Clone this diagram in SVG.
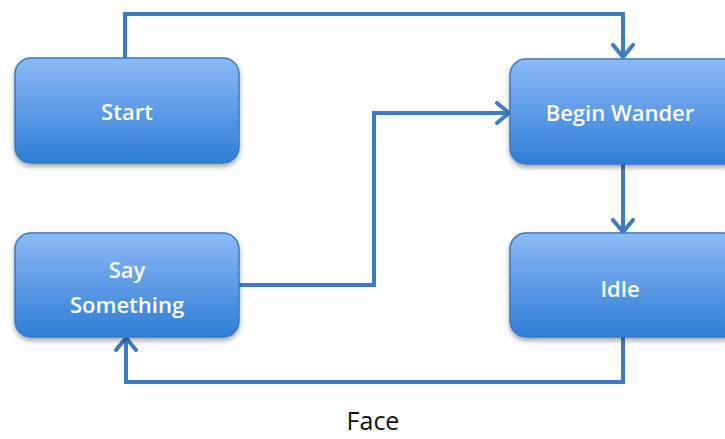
<svg xmlns="http://www.w3.org/2000/svg" width="725" height="439" viewBox="0 0 725 439">
<defs>
<linearGradient id="g" x1="0" y1="0" x2="0" y2="1">
<stop offset="0" stop-color="#8cbaf7"/>
<stop offset="1" stop-color="#2f7dd6"/>
</linearGradient>
<filter id="sh" x="-10%" y="-10%" width="120%" height="130%">
<feDropShadow dx="0" dy="3" stdDeviation="2.5" flood-color="#000" flood-opacity="0.35"/>
</filter>
<marker id="arr" viewBox="0 0 16 24" refX="14" refY="12" markerWidth="16" markerHeight="24" markerUnits="userSpaceOnUse" orient="auto">
<path d="M2,2 L14,12 L2,22" fill="none" stroke="#3d7cc4" stroke-width="4" stroke-linecap="round" stroke-linejoin="round"/>
</marker>
</defs>
<style>
.box{fill:url(#g);stroke:#3b78bf;stroke-width:1.5;filter:url(#sh)}
.lbl{font-family:"Open Sans","Liberation Sans",sans-serif;font-size:22px;font-weight:600;fill:#fff;text-anchor:middle}
.c{fill:none;stroke:#3d7cc4;stroke-width:4;stroke-linejoin:miter}
</style>
<g id="connectors">
<path class="c" d="M125,58 V14 H623 V57" marker-end="url(#arr)"/>
<path class="c" d="M239,285 H374 V113 H509" marker-end="url(#arr)"/>
<path class="c" d="M623,164 V232" marker-end="url(#arr)"/>
<path class="c" d="M623,337 V382 H126 V338" marker-end="url(#arr)"/>
</g>
<g id="start"><rect class="box" x="15" y="58" width="224" height="105" rx="16"/><text class="lbl" x="127" y="120">Start</text></g>
<g id="begin-wander"><rect class="box" x="510" y="59" width="230" height="105" rx="16"/><text class="lbl" x="620" y="121">Begin Wander</text></g>
<g id="say-something"><rect class="box" x="15" y="233" width="224" height="104" rx="16"/><text class="lbl" x="127" y="278">Say</text><text class="lbl" x="127" y="313">Something</text></g>
<g id="idle"><rect class="box" x="510" y="233" width="230" height="104" rx="16"/><text class="lbl" x="620" y="297">Idle</text></g>
<text x="373" y="430" font-family="Open Sans, Liberation Sans, sans-serif" font-size="25" fill="#111" text-anchor="middle">Face</text>
</svg>
